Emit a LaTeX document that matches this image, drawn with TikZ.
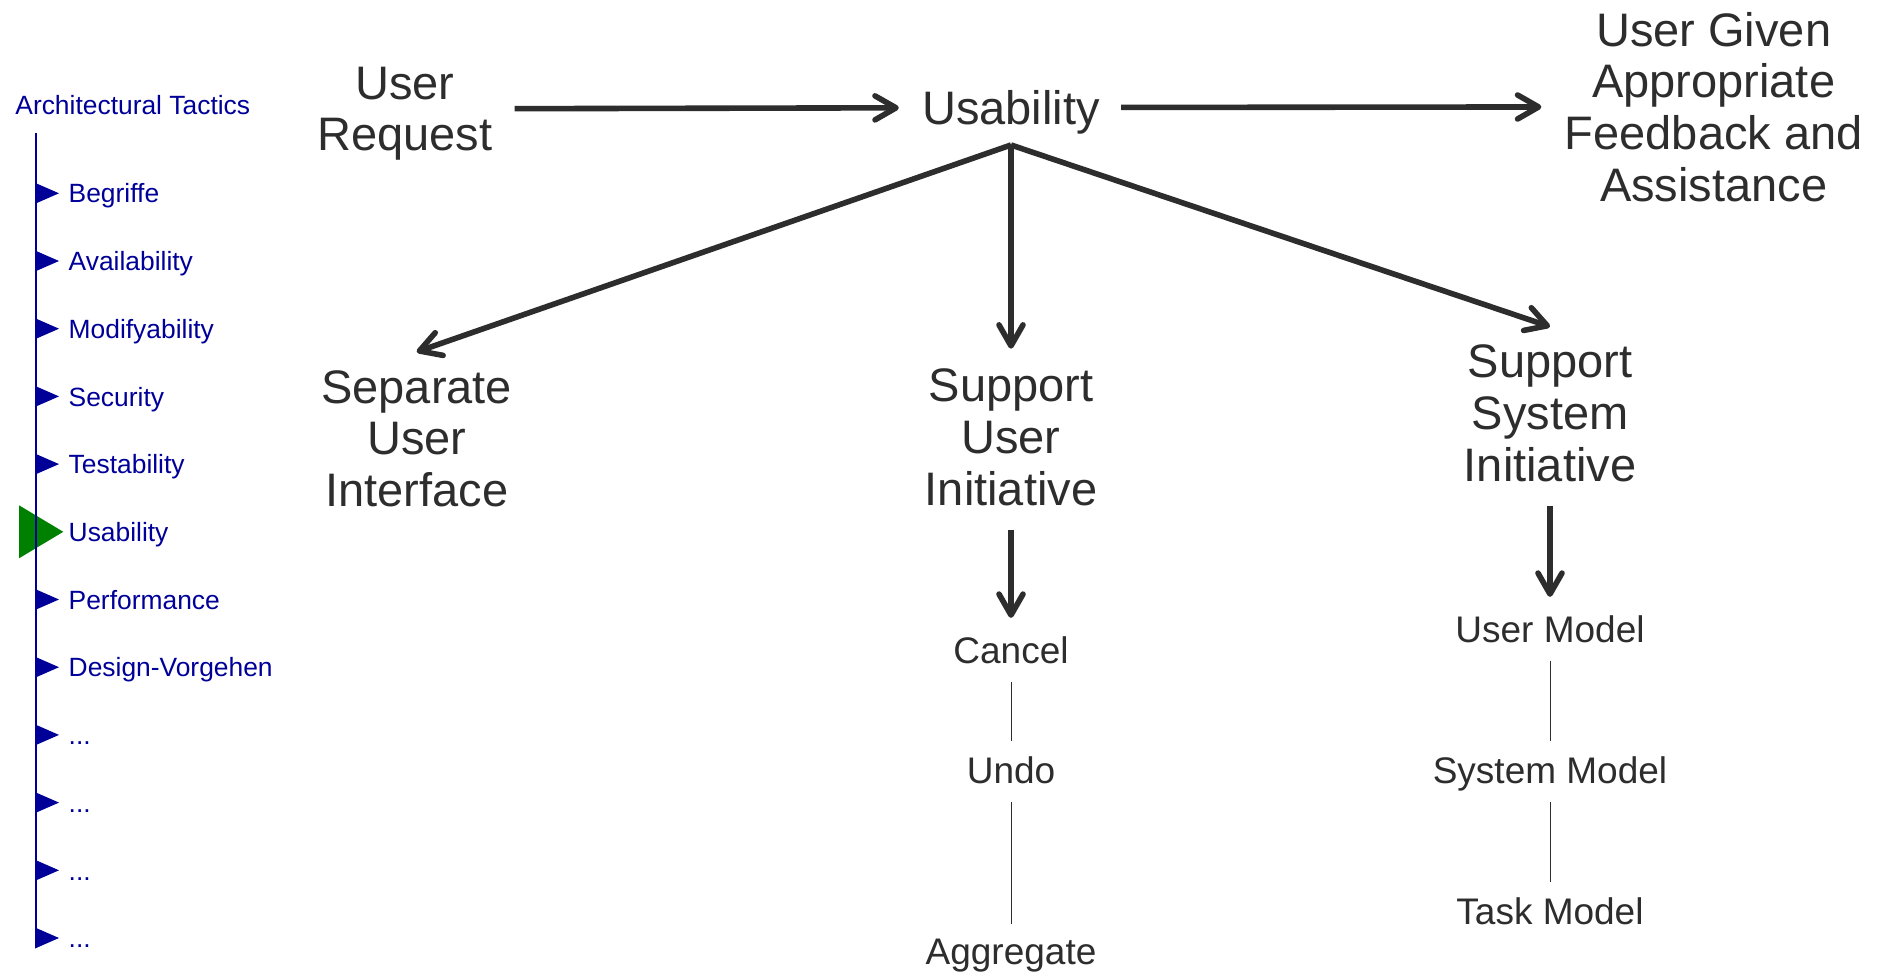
\documentclass[tikz,border=0pt]{standalone}
\usepackage{fontspec}
\setmainfont{Liberation Sans}
\usetikzlibrary{arrows.meta}

\definecolor{ink}{RGB}{45,45,45}
\definecolor{menublue}{RGB}{0,0,153}
\definecolor{hilite}{RGB}{0,128,0}
\newcommand{\menumore}{...}

\begin{document}
\begin{tikzpicture}[x=0.5pt,y=-0.5pt,>={Straight Barb[round,length=10.5pt,width=12pt]},
  text=ink,
  tactic node/.style={align=center,inner sep=0pt,text depth=0pt,anchor=south,
    font=\fontsize{23.5}{25.8}\selectfont},
  leaf node/.style={inner sep=0pt,text depth=0pt,anchor=south,
    font=\fontsize{18.5}{22}\selectfont},
  menu node/.style={inner sep=0pt,anchor=base west,text=menublue,
    font=\fontsize{13.2}{16}\selectfont},
  big arrow/.style={->,draw=ink,line width=2.8pt},
  thin line/.style={draw=ink,line width=0.5pt,shorten <=9pt,shorten >=7.5pt}]

  \fill[white] (0,0) rectangle (1883,973);

  % menu on the left
  \node[menu node] (menu) at (15,114.3) {Architectural Tactics};
  \foreach \entry [count=\i] in {Begriffe,Availability,Modifyability,Security,Testability,Usability,Performance,Design-Vorgehen,\menumore,\menumore,\menumore,\menumore} {
    \pgfmathsetmacro{\ypos}{193.3+67.7*(\i-1)}
    \ifnum\i=6
      \fill[hilite] (19,\ypos-26.5) -- (63.3,\ypos) -- (19,\ypos+26.5) -- cycle;
    \else
      \fill[menublue] (35,\ypos-10.5) -- (59,\ypos) -- (35,\ypos+10.5) -- cycle;
    \fi
    \node[menu node] (item-\i) at (68.3,\ypos+9.7) {\entry};
  }
  \draw[menublue,line width=1.2pt] (36,133) -- (36,948.3);

  % tactics
  \node[tactic node] (request) at (404.7,151.3) {User\\Request};
  \node[tactic node] (usability) at (1011,125) {Usability};
  \node[tactic node] (feedback) at (1713.7,201.6) {User Given\\Appropriate\\Feedback and\\Assistance};
  \node[tactic node] (separate) at (416.7,506.7) {Separate\\User\\Interface};
  \node[tactic node] (userinit) at (1011,505.5) {Support\\User\\Initiative};
  \node[tactic node] (sysinit) at (1550,481.5) {Support\\System\\Initiative};

  \node[leaf node] (cancel) at (1011,663.5) {Cancel};
  \node[leaf node] (undo) at (1011,783.5) {Undo};
  \node[leaf node] (aggregate) at (1011,965) {Aggregate};
  \node[leaf node] (usermodel) at (1550,642.5) {User Model};
  \node[leaf node] (sysmodel) at (1550,783.5) {System Model};
  \node[leaf node] (taskmodel) at (1550,925) {Task Model};

  \coordinate (hub) at ([yshift=-10pt]usability.south);

  \draw[big arrow,shorten <=11pt,shorten >=11.5pt] (request) -- (usability);
  \draw[big arrow,shorten <=10.5pt,shorten >=11.5pt] (usability) -- (feedback);
  \draw[big arrow] (hub) -- ([yshift=9pt]separate.north);
  \draw[big arrow] (hub) -- ([yshift=10pt]userinit.north);
  \draw[big arrow] (hub) -- ([yshift=9pt]sysinit.north);
  \draw[big arrow,shorten <=12pt,shorten >=9pt] (userinit) -- (cancel);
  \draw[big arrow,shorten <=12pt,shorten >=9pt] (sysinit) -- (usermodel);

  \draw[thin line] (cancel) -- (undo);
  \draw[thin line] (undo) -- (aggregate);
  \draw[thin line] (usermodel) -- (sysmodel);
  \draw[thin line] (sysmodel) -- (taskmodel);
\end{tikzpicture}
\end{document}
